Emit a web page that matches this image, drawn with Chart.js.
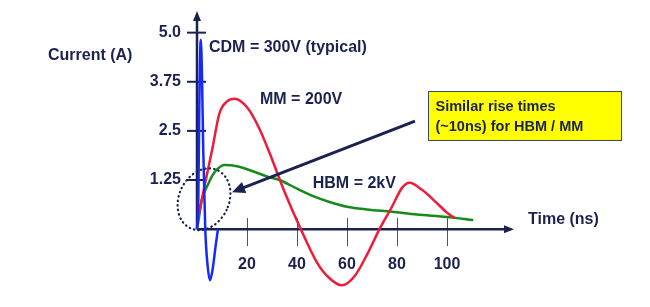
<!DOCTYPE html>
<html>
<head>
<meta charset="utf-8">
<script src="https://cdn.jsdelivr.net/npm/chart.js@4"></script>
<style>
  html, body { margin: 0; padding: 0; background: #ffffff; }
  #wrap { width: 650px; height: 307px; }
</style>
</head>
<body>
<div id="wrap"><canvas id="grafico" width="650" height="307"></canvas></div>
<script>
// valores (tempo em ns, corrente em A)
const cdmTime    = [0, 0.5, 0.9, 1.5, 2.0, 2.5, 3.3, 4.2, 5.2, 6.3, 7.4, 8.4];
const cdmCurrent = [0, 0.6, 3.0, 4.82, 3.9, 2.0, 0, -0.9, -1.3, -1.0, -0.45, 0];

const mmTime    = [0.5, 3, 6, 9, 12, 15, 20, 25, 30, 35, 41.5, 48, 53, 58, 63, 68, 73, 78, 82, 85, 90, 95, 100, 103];
const mmCurrent = [0.3, 1.1, 2.0, 2.95, 3.25, 3.32, 3.1, 2.55, 1.78, 0.95, 0, -0.85, -1.25, -1.43, -1.2, -0.65, 0, 0.57, 1.05, 1.18, 1.0, 0.72, 0.42, 0.28];

const hbmTime    = [0, 0.8, 1.9, 3, 4.5, 6, 8, 11, 16, 22, 28, 33, 40, 46.5, 53, 60, 68, 78, 88, 100, 110.5];
const hbmCurrent = [0, 0.3, 0.74, 0.95, 1.15, 1.35, 1.52, 1.63, 1.6, 1.48, 1.34, 1.25, 1.03, 0.84, 0.69, 0.57, 0.5, 0.44, 0.37, 0.31, 0.23];

const yTicks = [5.0, 3.75, 2.5, 1.25];
const yTickLabels = ['5.0', '3.75', '2.5', '1.25'];
const xTicks = [20, 40, 60, 80, 100];

const navy = '#1b2250';
const fonte = 'bold 16px "Liberation Sans", Arial, sans-serif';

function pontos(ts, vs) {
    return ts.map((t, i) => ({ x: t, y: vs[i] }));
}

const eixos = {
    id: 'eixos',
    beforeDatasetsDraw(chart) {
        const c = chart.ctx;
        const sx = chart.scales.x, sy = chart.scales.y;
        const x0 = sx.getPixelForValue(0);
        const y0 = sy.getPixelForValue(0);
        const xEnd = sx.right;
        const yTop = sy.top;

        c.save();
        c.strokeStyle = navy;
        c.fillStyle = navy;

        // ticks do eixo x (finos, cruzam o eixo)
        c.lineWidth = 1;
        c.strokeStyle = '#4a5273';
        xTicks.forEach(t => {
            const px = Math.round(sx.getPixelForValue(t)) + 0.5;
            c.beginPath();
            c.moveTo(px, y0 - 11);
            c.lineTo(px, y0 + 17);
            c.stroke();
        });

        // eixos
        c.strokeStyle = navy;
        c.lineWidth = 2.5;
        c.beginPath();
        c.moveTo(x0, y0);
        c.lineTo(x0, yTop + 3);
        c.moveTo(x0, y0);
        c.lineTo(xEnd - 3, y0);
        c.stroke();

        // pontas de seta
        c.beginPath();
        c.moveTo(x0, yTop - 2);
        c.lineTo(x0 - 4, yTop + 8);
        c.lineTo(x0 + 4, yTop + 8);
        c.closePath();
        c.fill();
        c.beginPath();
        c.moveTo(xEnd + 2, y0);
        c.lineTo(xEnd - 8, y0 - 4);
        c.lineTo(xEnd - 8, y0 + 4);
        c.closePath();
        c.fill();

        // ticks do eixo y
        c.lineWidth = 2;
        yTicks.forEach(v => {
            const py = sy.getPixelForValue(v);
            c.beginPath();
            c.moveTo(x0 - 10, py);
            c.lineTo(x0 + 9, py);
            c.stroke();
        });

        // rótulos
        c.font = fonte;
        c.textBaseline = 'middle';
        c.textAlign = 'right';
        yTicks.forEach((v, i) => {
            c.fillText(yTickLabels[i], x0 - 16, sy.getPixelForValue(v));
        });
        c.textAlign = 'center';
        xTicks.forEach(t => {
            c.fillText(String(t), sx.getPixelForValue(t), y0 + 35);
        });
        c.restore();
    },

    afterDatasetsDraw(chart) {
        const c = chart.ctx;
        const sx = chart.scales.x, sy = chart.scales.y;
        const px = t => sx.getPixelForValue(t);
        const py = v => sy.getPixelForValue(v);

        c.save();
        c.font = fonte;
        c.fillStyle = navy;
        c.textBaseline = 'middle';
        c.textAlign = 'left';
        c.fillText('CDM = 300V (typical)', px(4.8), py(4.61));
        c.fillText('MM = 200V', px(25.2), py(3.29));
        c.fillText('HBM = 2kV', px(46.3), py(1.17));
        c.fillText('Time (ns)', px(132.4), py(0.23));
        c.fillText('Current (A)', px(-59.6), py(4.41));

        // elipse pontilhada
        c.strokeStyle = navy;
        c.lineWidth = 2.2;
        c.lineCap = 'round';
        c.setLineDash([0.5, 4]);
        c.beginPath();
        c.ellipse(px(2.8), py(0.76), 25, 32, 0.44, 0, Math.PI * 2);
        c.stroke();
        c.setLineDash([]);

        // seta
        const ax1 = px(87.2), ay1 = py(2.75);
        const ax2 = px(14), ay2 = py(0.94);
        const ang = Math.atan2(ay2 - ay1, ax2 - ax1);
        c.lineCap = 'butt';
        c.lineWidth = 3;
        c.beginPath();
        c.moveTo(ax1, ay1);
        c.lineTo(ax2 - 9 * Math.cos(ang), ay2 - 9 * Math.sin(ang));
        c.stroke();
        c.beginPath();
        c.moveTo(ax2, ay2);
        c.lineTo(ax2 - 13 * Math.cos(ang) + 6 * Math.sin(ang), ay2 - 13 * Math.sin(ang) - 6 * Math.cos(ang));
        c.lineTo(ax2 - 13 * Math.cos(ang) - 6 * Math.sin(ang), ay2 - 13 * Math.sin(ang) + 6 * Math.cos(ang));
        c.closePath();
        c.fill();

        // caixa amarela
        const bx = Math.round(px(92.3)) + 0.5, by = Math.round(py(3.52)) + 0.5;
        const bw = 193, bh = 49;
        c.fillStyle = '#ffff00';
        c.fillRect(bx, by, bw, bh);
        c.strokeStyle = '#3c4668';
        c.lineWidth = 1;
        c.strokeRect(bx, by, bw, bh);
        c.fillStyle = navy;
        c.font = 'bold 14.5px "Liberation Sans", Arial, sans-serif';
        c.fillText('Similar rise times', bx + 7, by + 15);
        c.fillText('(~10ns) for HBM / MM', bx + 7, by + 35);
        c.restore();
    }
};

new Chart(document.getElementById('grafico'), {
    type: 'line',
    data: {
        datasets: [
            { label: 'CDM', data: pontos(cdmTime, cdmCurrent), borderColor: '#1428ff' },
            { label: 'MM', data: pontos(mmTime, mmCurrent), borderColor: '#ee1c3c' },
            { label: 'HBM', data: pontos(hbmTime, hbmCurrent), borderColor: '#168a1a' }
        ]
    },
    options: {
        responsive: false,
        animation: false,
        layout: { padding: { left: 197, right: 138, top: 13, bottom: 15 } },
        elements: {
            point: { radius: 0 },
            line: { borderWidth: 2.5, cubicInterpolationMode: 'monotone', fill: false }
        },
        datasets: { line: { clip: false } },
        scales: {
            x: { type: 'linear', min: 0, max: 126, display: false },
            y: { min: -1.6, max: 5.5, display: false }
        },
        plugins: {
            legend: { display: false },
            tooltip: { enabled: false }
        }
    },
    plugins: [eixos]
});
</script>
</body>
</html>
